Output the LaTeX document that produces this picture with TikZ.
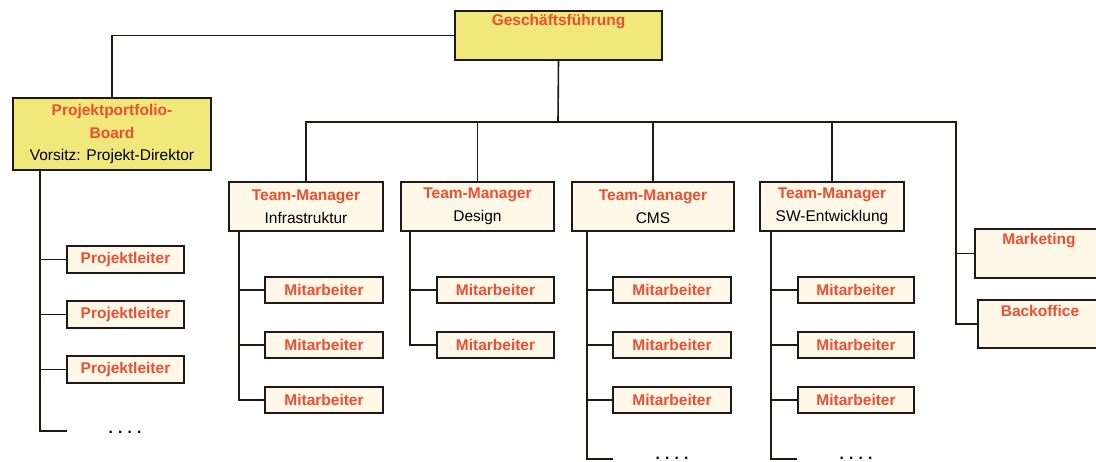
\documentclass[tikz,border=0pt]{standalone}
\usepackage{fontspec}
\setmainfont{Liberation Sans}
\definecolor{rot}{RGB}{238,78,48}
\definecolor{gelb}{RGB}{240,232,122}
\definecolor{creme}{RGB}{255,248,232}
\definecolor{ln}{RGB}{30,25,20}
\begin{document}
\begin{tikzpicture}[x=1pt,y=-1pt,
 every node/.style={font=\fontsize{15.5}{22.5}\selectfont, inner sep=0pt, outer sep=0pt},
 box/.style={draw=ln, line width=1.6pt, rectangle},
 ybox/.style={box, fill=gelb},
 cbox/.style={box, fill=creme},
 ttl/.style={text=rot, font=\fontsize{15.5}{22.5}\selectfont\bfseries},
 mbox/.style={cbox, ttl, minimum width=118pt, minimum height=26pt},
 tbox/.style={cbox, minimum height=49pt, align=center},
 conn/.style={draw=ln, line width=1.6pt},
 dots/.style={font=\fontsize{15.5}{18}\selectfont\bfseries, anchor=base}
]
\useasboundingbox (0,0) rectangle (1096,461);
\clip (0,0) rectangle (1096,461);

% top
\node[ybox, minimum width=207pt, minimum height=49pt] (gf) at (558.5,35.5) {};
\node[ttl] (gft) at (558.5,22) {Geschäftsführung};

\node[ybox, minimum width=198pt, minimum height=72pt, align=center] (pb) at (112,134)
 {\textcolor{rot}{\bfseries Projektportfolio-}\\\textcolor{rot}{\bfseries Board}\\Vorsitz: Projekt-Direktor};

% team managers
\node[tbox, minimum width=154pt] (tm1) at (306,206.5) {\textcolor{rot}{\bfseries Team-Manager}\\Infrastruktur};
\node[tbox, minimum width=153pt] (tm2) at (477.5,206.5) {\textcolor{rot}{\bfseries Team-Manager}\\Design};
\node[tbox, minimum width=162pt] (tm3) at (653,206.5) {\textcolor{rot}{\bfseries Team-Manager}\\CMS};
\node[tbox, minimum width=144pt] (tm4) at (832,206.5) {\textcolor{rot}{\bfseries Team-Manager}\\SW-Entwicklung};

% marketing / backoffice
\node[cbox, minimum width=135pt, minimum height=49pt] (mk) at (1042.5,253.5) {};
\node[ttl] (mkt) at (1039,241) {Marketing};
\node[cbox, minimum width=132pt, minimum height=48pt] (bo) at (1044,324) {};
\node[ttl] (bot) at (1040,311) {Backoffice};

% Projektleiter
\node[cbox, ttl, minimum width=117pt, minimum height=27pt] (p1) at (125.5,259.5) {Projektleiter};
\node[cbox, ttl, minimum width=117pt, minimum height=27pt] (p2) at (125.5,314.5) {Projektleiter};
\node[cbox, ttl, minimum width=117pt, minimum height=27pt] (p3) at (125.5,369.5) {Projektleiter};
\node[dots] (d0) at (125,433) {.\,\,.\,\,.\,\,.};

% Mitarbeiter
\node[mbox] (a1) at (324,290) {Mitarbeiter};
\node[mbox] (a2) at (324,345) {Mitarbeiter};
\node[mbox] (a3) at (324,400) {Mitarbeiter};
\node[mbox, minimum width=117pt] (b1) at (495.5,290) {Mitarbeiter};
\node[mbox, minimum width=117pt] (b2) at (495.5,345) {Mitarbeiter};
\node[mbox] (c1) at (672,290) {Mitarbeiter};
\node[mbox] (c2) at (672,345) {Mitarbeiter};
\node[mbox] (c3) at (672,400) {Mitarbeiter};
\node[dots] (d3) at (672,459) {.\,\,.\,\,.\,\,.};
\node[mbox, minimum width=116pt] (e1) at (856,290) {Mitarbeiter};
\node[mbox, minimum width=116pt] (e2) at (856,345) {Mitarbeiter};
\node[mbox, minimum width=116pt] (e3) at (856,400) {Mitarbeiter};
\node[dots] (d4) at (856,459) {.\,\,.\,\,.\,\,.};

% coordinates
\coordinate (bus) at (558,122);
\coordinate (sp) at (956,122);
\coordinate (s0) at (40,0);
\coordinate (s1) at (239,0);
\coordinate (s2) at (410,0);
\coordinate (s3) at (587,0);
\coordinate (s4) at (771,0);
\coordinate (f0) at (67,431);
\coordinate (f3) at (613,459);
\coordinate (f4) at (797,459);

% connectors top
\draw[conn] (gf.west) -| (pb.north);
\draw[conn] (gf.south) -- (bus);
\draw[conn] (tm1.north) |- (sp) -- (sp |- bo.west) -- (bo.west);
\draw[conn] (tm2.north) -- (tm2.north |- sp);
\draw[conn] (tm3.north) -- (tm3.north |- sp);
\draw[conn] (tm4.north) -- (tm4.north |- sp);
\draw[conn] (sp |- mk.west) -- (mk.west);

% Projektleiter spine
\draw[conn] (s0 |- pb.south) -- (s0 |- f0) -- (f0);
\draw[conn] (s0 |- p1.west) -- (p1.west);
\draw[conn] (s0 |- p2.west) -- (p2.west);
\draw[conn] (s0 |- p3.west) -- (p3.west);

% Infrastruktur
\draw[conn] (s1 |- tm1.south) -- (s1 |- a3.west) -- (a3.west);
\draw[conn] (s1 |- a1.west) -- (a1.west);
\draw[conn] (s1 |- a2.west) -- (a2.west);

% Design
\draw[conn] (s2 |- tm2.south) -- (s2 |- b2.west) -- (b2.west);
\draw[conn] (s2 |- b1.west) -- (b1.west);

% CMS
\draw[conn] (s3 |- tm3.south) -- (s3 |- f3) -- (f3);
\draw[conn] (s3 |- c1.west) -- (c1.west);
\draw[conn] (s3 |- c2.west) -- (c2.west);
\draw[conn] (s3 |- c3.west) -- (c3.west);

% SW
\draw[conn] (s4 |- tm4.south) -- (s4 |- f4) -- (f4);
\draw[conn] (s4 |- e1.west) -- (e1.west);
\draw[conn] (s4 |- e2.west) -- (e2.west);
\draw[conn] (s4 |- e3.west) -- (e3.west);
\end{tikzpicture}
\end{document}
